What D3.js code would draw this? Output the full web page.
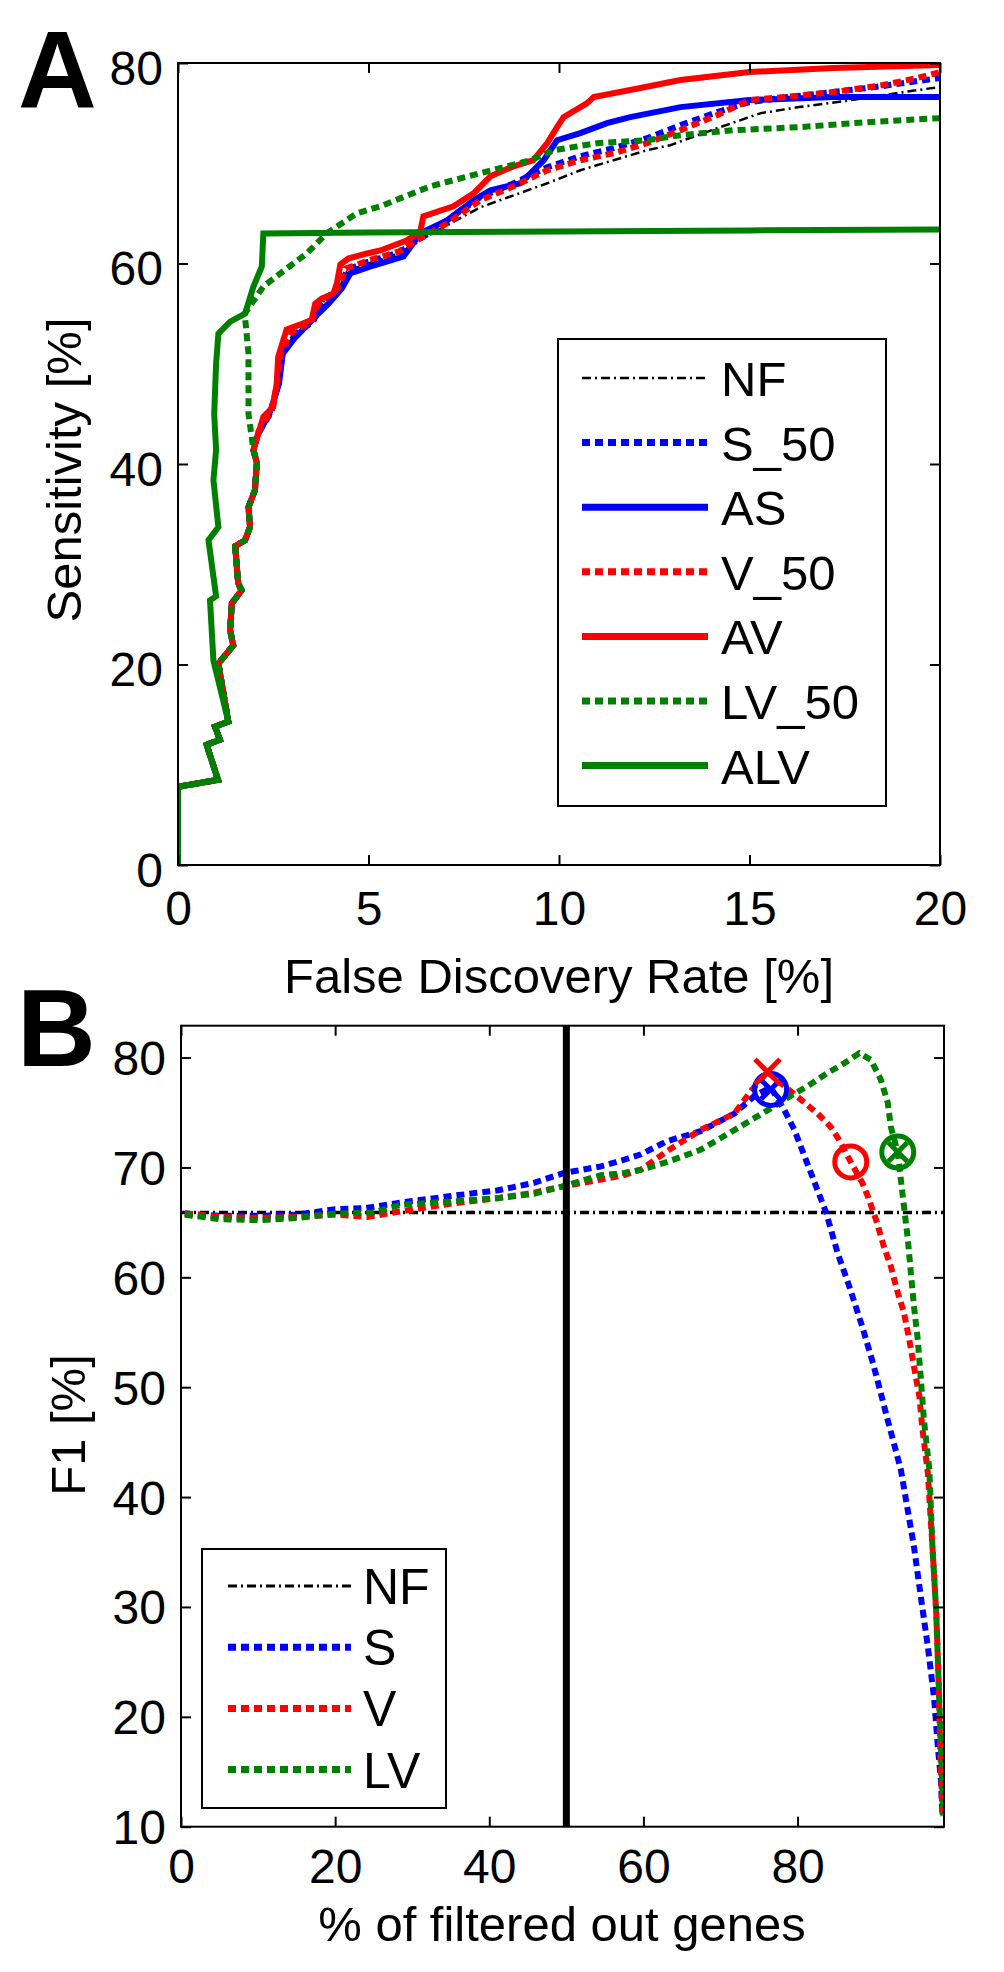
<!DOCTYPE html>
<html>
<head>
<meta charset="utf-8">
<script src="https://cdn.jsdelivr.net/npm/d3@7"></script>
<style>
  html, body { margin: 0; padding: 0; background: #fff; }
  svg { display: block; }
  text { font-family: "Liberation Sans", Arial, sans-serif; fill: #000; }
</style>
</head>
<body>
<svg id="chart" width="1004" height="1972"></svg>
<script>
// ---------------- DATA: Panel A (FDR [%] vs Sensitivity [%]) ----------------
const fdrTicksA = [0, 5, 10, 15, 20];
const sensTicksA = [0, 20, 40, 60, 80];
const seriesNamesA = ["NF", "S_50", "AS", "V_50", "AV", "LV_50", "ALV"];

// shared early part of the curves (mostly hidden under ALV)
const lowerPathA = [[0,0],[0,7.8],[1.05,8.5],[0.75,12],[1.1,12.5],[0.97,13.8],[1.32,14.3],[1.06,20.1],
  [1.45,21.9],[1.37,23.4],[1.41,26.1],[1.67,27.4],[1.58,28.1],[1.5,31.8],[1.76,32.4],[1.89,33.7],
  [1.85,35.7],[2.02,37.4],[2.07,40.1],[1.98,41.4]];

const nfA = [[2.1,43.0],[2.45,45.2],[2.62,48],[2.72,51],[3.0,52.8],[3.55,54.2],[3.75,56],[4.2,57.3],
  [4.45,59.3],[5.0,60.0],[5.8,61.0],[6.4,62.4],[7.06,63.8],[7.93,65.6],[8.81,66.8],[9.69,68.0],[10.56,69.3],
  [11.43,70.3],[12.31,71.3],[12.92,71.8],[14.15,73.5],[15.3,75.0],[16.3,75.6],[17.5,76.2],[19.4,77.3],[20,77.6]];
const s50A = [[2.1,43.0],[2.45,45.2],[2.62,48],[2.72,51],[3.0,52.8],[3.55,54.2],[3.75,56],[4.2,57.4],
  [4.45,59.4],[5.0,60.2],[5.8,61.1],[6.4,62.6],[7.06,64.3],[7.93,66.6],[8.81,68.0],[9.69,69.6],[10.56,70.7],
  [11.43,71.5],[12.31,72.5],[13.19,73.8],[14.15,75.1],[15,76.1],[16,76.6],[17.2,77.1],[18.5,77.7],[19.4,78.2],[20,78.5]];
const asA = [[2.1,43],[2.4,45],[2.65,48],[2.75,51],[3.05,52.5],[3.55,54.5],[3.95,56],[4.3,57.5],[4.52,59],
  [5.13,59.8],[5.92,60.7],[6.36,63.0],[7.06,64.3],[7.76,66.3],[8.2,67.3],[8.98,68.0],[9.25,69.0],[9.6,70.3],
  [9.95,72.3],[10.56,73.0],[11.26,74.0],[11.87,74.6],[13.19,75.6],[15,76.3],[17.2,76.6],[20,76.6]];
const v50A = [[2.1,43.2],[2.45,45.3],[2.6,48],[2.7,51],[2.95,53],[3.5,54.2],[3.7,56],[4.2,57.5],[4.4,59.5],
  [5.0,60.3],[5.8,61.2],[6.4,62.6],[7.06,64.0],[7.93,66.3],[8.81,67.7],[9.69,69.3],[10.56,70.3],[11.43,71.0],
  [12.31,72.0],[13.19,73.3],[14.15,74.8],[15,76.3],[15.9,76.6],[17.2,77.1],[18.5,77.8],[19.4,78.5],[20,79.1]];
const avA = [[2.24,44.7],[2.5,45.7],[2.59,48],[2.63,50.7],[2.85,53.4],[3.2,53.9],[3.51,54.4],[3.6,56],
  [3.77,56.5],[4.08,57],[4.17,58],[4.26,59.9],[4.47,60.5],[4.96,61],[5.31,61.3],[6.0,62.3],[6.36,63.2],
  [6.44,64.7],[7.23,65.7],[7.76,67.0],[8.2,68.7],[8.81,69.7],[9.33,70.3],[9.69,72.0],[9.95,73.6],[10.12,74.6],
  [10.74,76.0],[10.91,76.6],[11.87,77.3],[13.19,78.3],[15,79.1],[17.2,79.5],[20,79.8]];
const lv50A = [[1.85,45],[1.85,51],[1.75,55],[2.24,57.7],[2.68,59],[3.38,61],[3.9,63],[4.69,65],[5.31,65.7],
  [6.62,67.7],[7.93,69.0],[9.25,70.3],[9.86,71.3],[11.0,72.0],[12.31,72.3],[13.19,72.8],[14.6,73.3],[16.3,73.6],
  [18.1,74.1],[20,74.5]];
const alvA = [[0,0],[0,7.8],[1.05,8.5],[0.75,12],[1.1,12.5],[0.97,13.8],[1.32,14.3],[0.93,20.4],[0.84,26.4],
  [1.0,26.8],[0.8,32.4],[1.06,33.7],[0.93,38.4],[1.0,41.4],[0.95,45],[1.0,50],[1.06,53],[1.37,54.2],
  [1.76,55],[1.98,57.7],[2.2,59.7],[2.24,63],[5,63.1],[10,63.2],[15,63.3],[20,63.4]];

// ---------------- DATA: Panel B (% filtered out genes vs F1 [%]) ----------------
const pctTicksB = [0, 20, 40, 60, 80];
const f1TicksB = [10, 20, 30, 40, 50, 60, 70, 80];
const seriesNamesB = ["NF", "S", "V", "LV"];
const nfValueB = 65.9;
const cutoffB = 50;

const sB = [[0.5,65.8],[5,65.6],[10,65.6],[15,65.7],[20,66.2],[24,66.3],[28.5,66.8],[35,67.4],[41,67.9],
  [45.8,68.6],[49.7,69.5],[54.5,70.1],[57.5,70.7],[59.7,71.2],[63.1,72.4],[67.4,73.3],[71.8,74.9],[74.4,76.5],
  [76.5,77.3],[78.3,75.2],[79.6,73.4],[81.9,69.2],[83.7,65.9],[85.2,62.2],[86.7,59.2],[88.4,55.5],[89.9,51.9],
  [91.7,47.0],[93.4,42.5],[95.1,35.5],[96.0,30.9],[96.9,26.4],[97.7,21.8],[98.2,17.3],[98.6,14.2],[98.8,10.9]];
const vB = [[0.5,65.8],[5,65.5],[10,65.4],[15,65.5],[20,65.7],[24.2,65.5],[28.5,66.0],[35,66.7],[41,67.2],
  [45.8,67.7],[49.7,68.3],[54.5,68.9],[57.5,69.3],[59.7,69.8],[63.1,71.5],[67.4,73.4],[71.8,74.9],[74,77.0],
  [76.1,78.7],[78.3,77.4],[80.4,76.2],[82.6,74.9],[84.3,73.7],[85.4,72.5],[86.9,70.5],[88.4,68.6],[89.1,67.4],
  [90.2,65.2],[91.2,62.8],[92.1,61.0],[93.0,58.6],[93.8,56.8],[94.5,54.3],[95.1,51.9],[95.8,49.2],[96.2,46.2],
  [96.9,42.2],[97.5,35.5],[98.0,29.4],[98.3,23.3],[98.5,17.3],[98.8,11]];
const lvB = [[0.5,65.7],[5,65.3],[10,65.2],[15,65.4],[20,65.8],[25,65.9],[28.5,66.6],[35,66.9],[41,67.2],
  [45.8,67.6],[49.7,68.3],[54.5,69.3],[57.5,69.5],[59.7,69.8],[63.1,70.5],[67.4,71.6],[71.8,73.4],[76.1,75.2],
  [79.1,76.5],[81.3,77.4],[83.9,78.6],[86.1,79.5],[88.0,80.4],[89.5,79.8],[90.8,78.0],[91.7,75.9],[92.1,73.7],
  [93.0,71.4],[93.4,68.9],[93.8,66.5],[94.3,63.5],[94.7,60.4],[95.1,57.4],[95.6,54.3],[96.0,50.7],[96.4,47.0],
  [97.1,42.5],[97.5,35.5],[98.0,29.4],[98.3,23.3],[98.6,17.3],[98.9,11]];

// markers: x-marker and o-marker positions per series [pct, F1]
const xMarkB = { S: [76.5, 77.1], V: [76.1, 78.7], LV: [93.0, 71.4] };
const oMarkB = { S: [76.5, 77.1], V: [86.9, 70.5], LV: [93.0, 71.4] };

// ---------------- STYLES ----------------
const COLORS = { black: "#000000", blue: "#0000ff", red: "#ff0000", green: "#008000" };
const DASH = "8,5";
const DASHDOT = "9,4,2,4";
const FAMILY = '"Liberation Sans", Arial, Helvetica, sans-serif';

const svg = d3.select("#chart");
const FONT_TICK = 48, FONT_TITLE = 49;

function frame(g, x, y) {
  const [x0, x1] = x.range(), [y0, y1] = y.range();
  g.append("rect").attr("x", x0).attr("y", y1).attr("width", x1 - x0).attr("height", y0 - y1)
    .attr("fill", "none").attr("stroke", "#000").attr("stroke-width", 2);
}

function axes(g, x, y, xt, yt, opts) {
  const [x0, x1] = x.range(), [y0, y1] = y.range();
  const gb = g.append("g").attr("transform", `translate(0,${y0})`)
    .call(d3.axisBottom(x).tickValues(xt).tickSizeInner(-10).tickSizeOuter(0).tickPadding(0).tickFormat(d3.format("d")));
  const gt = g.append("g").attr("transform", `translate(0,${y1})`)
    .call(d3.axisTop(x).tickValues(xt).tickSizeInner(-10).tickSizeOuter(0).tickFormat(""));
  const gl = g.append("g").attr("transform", `translate(${x0},0)`)
    .call(d3.axisLeft(y).tickValues(yt).tickSizeInner(-10).tickSizeOuter(0).tickPadding(15).tickFormat(d3.format("d")));
  const gr = g.append("g").attr("transform", `translate(${x1},0)`)
    .call(d3.axisRight(y).tickValues(yt).tickSizeInner(-10).tickSizeOuter(0).tickFormat(""));
  [gb, gt, gl, gr].forEach(a => {
    a.attr("font-family", FAMILY);
    a.select(".domain").remove();
    a.selectAll("line").attr("stroke", "#000").attr("stroke-width", 2);
    a.selectAll("text").attr("font-size", FONT_TICK).attr("font-family", FAMILY).attr("fill", "#000");
  });
  gb.selectAll("text").attr("dy", null).attr("y", opts.xBase);
  gl.selectAll("text").attr("dy", null).attr("y", opts.yOff);
  frame(g, x, y);
}

function lineStyle(sel, color, kind, width) {
  sel.attr("fill", "none").attr("stroke", color).attr("stroke-width", width)
    .attr("stroke-linejoin", "miter").attr("stroke-linecap", "butt");
  if (kind === "dash") sel.attr("stroke-dasharray", DASH);
  if (kind === "dashdot") sel.attr("stroke-dasharray", DASHDOT);
}

// ======================= PANEL A =======================
const xA = d3.scaleLinear().domain([0, 20]).range([178, 940]);
const yA = d3.scaleLinear().domain([0, 80]).range([865, 63]);
const gA = svg.append("g").attr("font-family", FAMILY);
gA.append("clipPath").attr("id", "clipA").append("rect")
  .attr("x", 178).attr("y", 63).attr("width", 762).attr("height", 802);

const lineA = d3.line().x(d => xA(d[0])).y(d => yA(d[1]));
const seriesA = [
  { name: "NF", data: lowerPathA.concat(nfA), color: COLORS.black, kind: "dashdot", w: 2.5 },
  { name: "S_50", data: lowerPathA.concat(s50A), color: COLORS.blue, kind: "dash", w: 6 },
  { name: "AS", data: lowerPathA.concat(asA), color: COLORS.blue, kind: "solid", w: 6 },
  { name: "V_50", data: lowerPathA.concat(v50A), color: COLORS.red, kind: "dash", w: 6 },
  { name: "AV", data: lowerPathA.concat(avA), color: COLORS.red, kind: "solid", w: 6 },
  { name: "LV_50", data: lowerPathA.concat(lv50A), color: COLORS.green, kind: "dash", w: 6 },
  { name: "ALV", data: alvA, color: COLORS.green, kind: "solid", w: 6 }
];
const plotA = gA.append("g").attr("clip-path", "url(#clipA)");
seriesA.forEach(s => lineStyle(plotA.append("path").attr("d", lineA(s.data)), s.color, s.kind, s.w));

axes(gA, xA, yA, fdrTicksA, sensTicksA, { xBase: 60, yOff: 21 });

// Legend A
const legA = gA.append("g");
legA.append("rect").attr("x", 558).attr("y", 339).attr("width", 328).attr("height", 467)
  .attr("fill", "#fff").attr("stroke", "#000").attr("stroke-width", 2);
seriesA.forEach((s, i) => {
  const yy = 378 + i * 64.6;
  lineStyle(legA.append("line").attr("x1", 582).attr("x2", 708).attr("y1", yy).attr("y2", yy),
    s.color, s.kind, s.kind === "dashdot" ? 2.5 : 7);
  legA.append("text").attr("x", 721).attr("y", yy + 18).attr("font-size", 49).text(seriesNamesA[i]);
});

// titles A
gA.append("text").attr("x", 559).attr("y", 993).attr("text-anchor", "middle")
  .attr("font-size", FONT_TITLE).text("False Discovery Rate [%]");
gA.append("text").attr("transform", "translate(81,470) rotate(-90)").attr("text-anchor", "middle")
  .attr("font-size", FONT_TITLE).text("Sensitivity [%]");
gA.append("text").attr("x", 18).attr("y", 107).attr("font-size", 109).attr("font-weight", "bold").text("A");

// ======================= PANEL B =======================
const xB = d3.scaleLinear().domain([0, 99]).range([181, 944]);
const yB = d3.scaleLinear().domain([10, 82.9]).range([1826.7, 1025.7]);
const gB = svg.append("g").attr("font-family", FAMILY);
gB.append("clipPath").attr("id", "clipB").append("rect")
  .attr("x", 181).attr("y", 1025.7).attr("width", 763).attr("height", 801);
const lineB = d3.line().x(d => xB(d[0])).y(d => yB(d[1]));
const plotB = gB.append("g").attr("clip-path", "url(#clipB)");

const seriesB = [
  { name: "NF", data: [[0, nfValueB], [99, nfValueB]], color: COLORS.black, kind: "dashdot", w: 3.5 },
  { name: "S", data: sB, color: COLORS.blue, kind: "dash", w: 6 },
  { name: "V", data: vB, color: COLORS.red, kind: "dash", w: 6 },
  { name: "LV", data: lvB, color: COLORS.green, kind: "dash", w: 6 }
];
seriesB.forEach(s => lineStyle(plotB.append("path").attr("d", lineB(s.data)), s.color, s.kind, s.w));

// cutoff line at 50%
plotB.append("line").attr("x1", xB(cutoffB)).attr("x2", xB(cutoffB))
  .attr("y1", yB.range()[0]).attr("y2", yB.range()[1]).attr("stroke", "#000").attr("stroke-width", 7);

// markers
const markerColor = { S: COLORS.blue, V: COLORS.red, LV: COLORS.green };
["S", "V", "LV"].forEach(k => {
  const [ox, oy] = oMarkB[k];
  plotB.append("circle").attr("cx", xB(ox)).attr("cy", yB(oy)).attr("r", 16)
    .attr("fill", "none").attr("stroke", markerColor[k]).attr("stroke-width", 5);
});
["S", "V", "LV"].forEach(k => {
  const [mx, my] = xMarkB[k];
  const inside = (oMarkB[k][0] === mx && oMarkB[k][1] === my);
  const h = inside ? 9.5 : 12.5;
  const cx = xB(mx), cy = yB(my);
  [[-h, -h, h, h], [-h, h, h, -h]].forEach(([a, b, c, d]) => {
    plotB.append("line").attr("x1", cx + a).attr("y1", cy + b).attr("x2", cx + c).attr("y2", cy + d)
      .attr("stroke", markerColor[k]).attr("stroke-width", 5);
  });
});

axes(gB, xB, yB, pctTicksB, f1TicksB, { xBase: 56, yOff: 17 });

// Legend B
const legB = gB.append("g");
legB.append("rect").attr("x", 202).attr("y", 1549).attr("width", 244).attr("height", 259)
  .attr("fill", "#fff").attr("stroke", "#000").attr("stroke-width", 2);
seriesB.forEach((s, i) => {
  const yy = 1586 + i * 61.2;
  lineStyle(legB.append("line").attr("x1", 228).attr("x2", 351).attr("y1", yy).attr("y2", yy),
    s.color, s.kind, s.kind === "dashdot" ? 3 : 7);
  legB.append("text").attr("x", 363).attr("y", yy + 18).attr("font-size", 50).text(seriesNamesB[i]);
});

// titles B
gB.append("text").attr("x", 562).attr("y", 1941).attr("text-anchor", "middle")
  .attr("font-size", FONT_TITLE).text("% of filtered out genes");
gB.append("text").attr("transform", "translate(85,1425) rotate(-90)").attr("text-anchor", "middle")
  .attr("font-size", FONT_TITLE).text("F1 [%]");
gB.append("text").attr("x", 17).attr("y", 1066).attr("font-size", 109).attr("font-weight", "bold").text("B");
</script>
</body>
</html>
